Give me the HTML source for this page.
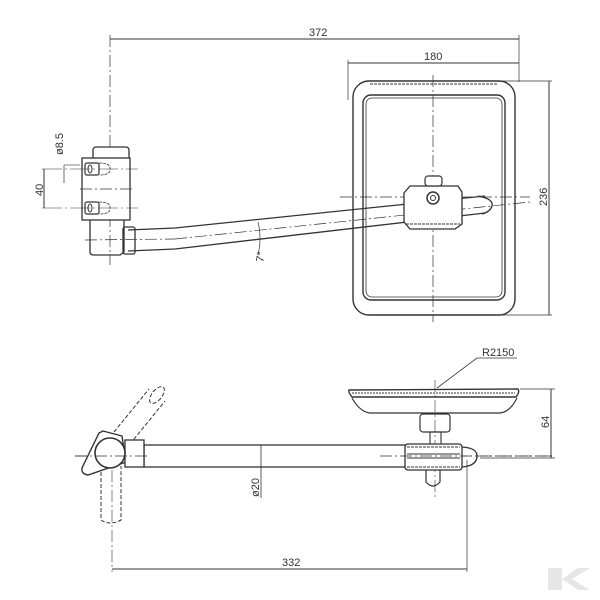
<!DOCTYPE html>
<html><head><style>body{margin:0;background:#fff}svg{display:block}text{font-family:"Liberation Sans",sans-serif;font-size:11px;fill:#333}</style></head>
<body>
<svg width="600" height="600" viewBox="0 0 600 600" xmlns="http://www.w3.org/2000/svg" fill="none" stroke="#333" stroke-width="1">
<!-- TOP VIEW dims -->
<line x1="110" y1="39" x2="519" y2="39"/>
<line x1="110" y1="35" x2="110" y2="265" stroke-dasharray="12 3 2 3" stroke-width="0.7"/>
<line x1="519" y1="35" x2="519" y2="82" stroke-width="0.7"/>
<text x="309" y="36" stroke="none">372</text>
<line x1="348" y1="63" x2="519" y2="63"/>
<line x1="348" y1="60" x2="348" y2="100" stroke-width="0.7"/>
<text x="424" y="60" stroke="none">180</text>
<line x1="500" y1="81" x2="552" y2="81" stroke-width="0.7"/>
<line x1="500" y1="315" x2="552" y2="315" stroke-width="0.7"/>
<line x1="549" y1="81" x2="549" y2="315"/>
<text transform="translate(547,206) rotate(-90)" stroke="none">236</text>
<!-- mirror -->
<rect x="353" y="81" width="162" height="234" rx="16" stroke-width="1.4"/>
<rect x="363" y="95" width="142" height="205" rx="8" stroke-width="1.4"/>
<rect x="366" y="98" width="136" height="199" rx="6" stroke-width="0.8"/>
<line x1="370" y1="84" x2="497" y2="84" stroke-dasharray="3 1"/>
<line x1="433" y1="75" x2="433" y2="322" stroke-dasharray="12 3 2 3" stroke-width="0.7"/>
<line x1="340" y1="197" x2="530" y2="197" stroke-dasharray="12 3 2 3" stroke-width="0.7"/>
<!-- arm top view -->
<path d="M128 230 L175 228 L485 196" stroke-width="1.3"/>
<path d="M128 251 L175 249 L485 213" stroke-width="1.3"/>
<path d="M478 196 Q494 199 492 206 Q490 212 482 214" stroke-width="1.3"/>
<line x1="85" y1="240" x2="175" y2="239" stroke-dasharray="12 3 2 3" stroke-width="0.7"/>
<line x1="175" y1="239" x2="530" y2="202" stroke-dasharray="12 3 2 3" stroke-width="0.7"/>
<path d="M258 222 Q262 238 258 255" stroke-width="0.7"/>
<text x="256" y="262" stroke="none" font-size="10" transform="rotate(-80 260 258)">7°</text>
<!-- clamp -->
<path d="M404 193 L410 186 L458 186 L462 192 L462 224 L455 229 L410 229 L404 222 Z" fill="#fff" stroke-width="1.3"/>
<line x1="406" y1="224" x2="460" y2="224" stroke-dasharray="3 1"/>
<rect x="425" y="176" width="17" height="10" rx="3" fill="#fff" stroke-width="1.2"/>
<circle cx="433" cy="198" r="6" stroke-width="1.5"/>
<circle cx="433" cy="198" r="2.5"/>
<!-- bracket -->
<rect x="93" y="147" width="36" height="14" rx="3" fill="#fff" stroke-width="1.3"/>
<rect x="82" y="158" width="48" height="62" fill="#fff" stroke-width="1.3"/>
<path d="M90 220 L90 252 Q90 255 94 255 L120 255 L124 252 L124 220" stroke-width="1.3"/>
<rect x="123" y="227" width="12" height="27" rx="2" stroke-width="1.3"/>
<rect x="85" y="163" width="14" height="12" rx="2" stroke-width="1.2"/>
<rect x="85" y="202" width="14" height="12" rx="2" stroke-width="1.2"/>
<path d="M99 163 Q111 163 110 169 Q111 175 99 175 M99 202 Q111 202 110 208 Q111 214 99 214" stroke-width="0.8" stroke-dasharray="3 1"/>
<ellipse cx="90" cy="169" rx="2" ry="4"/><ellipse cx="90" cy="208" rx="2" ry="4"/>
<line x1="80" y1="189" x2="135" y2="189" stroke-dasharray="12 3 2 3" stroke-width="0.7"/>
<line x1="42" y1="169" x2="138" y2="169" stroke-width="0.6" stroke-dasharray="20 3 2 3"/>
<line x1="42" y1="208" x2="138" y2="208" stroke-width="0.6" stroke-dasharray="20 3 2 3"/>
<line x1="44" y1="169" x2="44" y2="208"/>
<text transform="translate(43,196) rotate(-90)" stroke="none">40</text>
<line x1="64" y1="165" x2="64" y2="183" stroke-width="0.7"/>
<line x1="64" y1="165" x2="80" y2="165" stroke-width="0.6"/>
<text transform="translate(63,155) rotate(-90)" stroke="none" font-size="10">ø8.5</text>

<!-- BOTTOM VIEW -->
<line x1="75" y1="456" x2="555" y2="456" stroke-dasharray="12 3 2 3" stroke-width="0.7"/>
<path d="M349 390 Q348 392 352 397 L516 397 Q520 392 518 389 Z" fill="#fff" stroke-width="1.4"/>
<line x1="352" y1="393" x2="515" y2="393" stroke-dasharray="2 1"/>
<path d="M352 398 Q360 412 370 413 L500 413 Q510 412 517 398" stroke-width="1.2"/>
<rect x="420" y="414" width="30" height="18" rx="3" stroke-width="1.2"/>
<line x1="435" y1="380" x2="435" y2="500" stroke-dasharray="12 3 2 3" stroke-width="0.6"/>
<rect x="430" y="432" width="11" height="13" stroke-width="1.1"/>
<rect x="144" y="445" width="262" height="22" fill="#fff" stroke-width="1.3"/>
<rect x="405" y="444" width="57" height="26" rx="3" fill="#fff" stroke-width="1.3"/>
<path d="M462 447 Q478 448 477 457 Q476 466 462 467" stroke-width="1.3"/>
<line x1="407" y1="447" x2="460" y2="447" stroke-dasharray="3 1"/>
<line x1="407" y1="467" x2="460" y2="467" stroke-dasharray="3 1"/>
<line x1="407" y1="454" x2="460" y2="454"/><line x1="407" y1="458" x2="460" y2="458"/>
<path d="M426 470 L426 482 Q433 490 440 482 L440 470" stroke-width="1.2"/>
<line x1="380" y1="456" x2="555" y2="456" stroke-dasharray="12 3 2 3" stroke-width="0.7"/>
<!-- joint -->
<path d="M130 444 L165 401 M114 432 L149 389" stroke-dasharray="4 2"/>
<ellipse cx="157" cy="395" rx="5" ry="10" transform="rotate(39 157 395)" stroke-dasharray="4 2"/>
<path d="M101 466 L101 520 Q110 526 121 520 L121 466" stroke-dasharray="4 2"/>
<path d="M103 431 L122 436 L126 462 L88 475 Q81 474 82 468 L99 433 Z" fill="#fff" stroke-width="1.4"/>
<rect x="125" y="440" width="19" height="27" fill="#fff" stroke-width="1.3"/>
<circle cx="110" cy="453" r="15" fill="#fff" stroke-width="1.6"/>
<line x1="75" y1="456" x2="150" y2="456" stroke-dasharray="12 3 2 3" stroke-width="0.7"/>
<!-- dims -->
<line x1="112" y1="470" x2="112" y2="572" stroke-dasharray="12 3 2 3" stroke-width="0.6"/>
<line x1="467" y1="460" x2="467" y2="572" stroke-width="0.7"/>
<line x1="112" y1="569" x2="467" y2="569"/>
<text x="282" y="566" stroke="none">332</text>
<line x1="261" y1="445" x2="261" y2="498" stroke-width="0.8"/>
<text transform="translate(259,497) rotate(-90)" stroke="none" font-size="10">ø20</text>
<line x1="520" y1="389" x2="555" y2="389" stroke-width="0.7"/>
<line x1="480" y1="458" x2="555" y2="458" stroke-width="0.7"/>
<line x1="551" y1="389" x2="551" y2="458"/>
<text transform="translate(549,428) rotate(-90)" stroke="none" font-size="10">64</text>
<polyline points="437,388 477,358 517,358" stroke-width="0.8"/>
<text x="482" y="356" stroke="none" font-size="10">R2150</text>
<!-- logo -->
<g fill="#e6e6e6" stroke="none"><rect x="548" y="568" width="14" height="22"/><polygon points="562,579 578,568 590,568 572,579 590,590 578,590"/></g>
</svg>
</body></html>
